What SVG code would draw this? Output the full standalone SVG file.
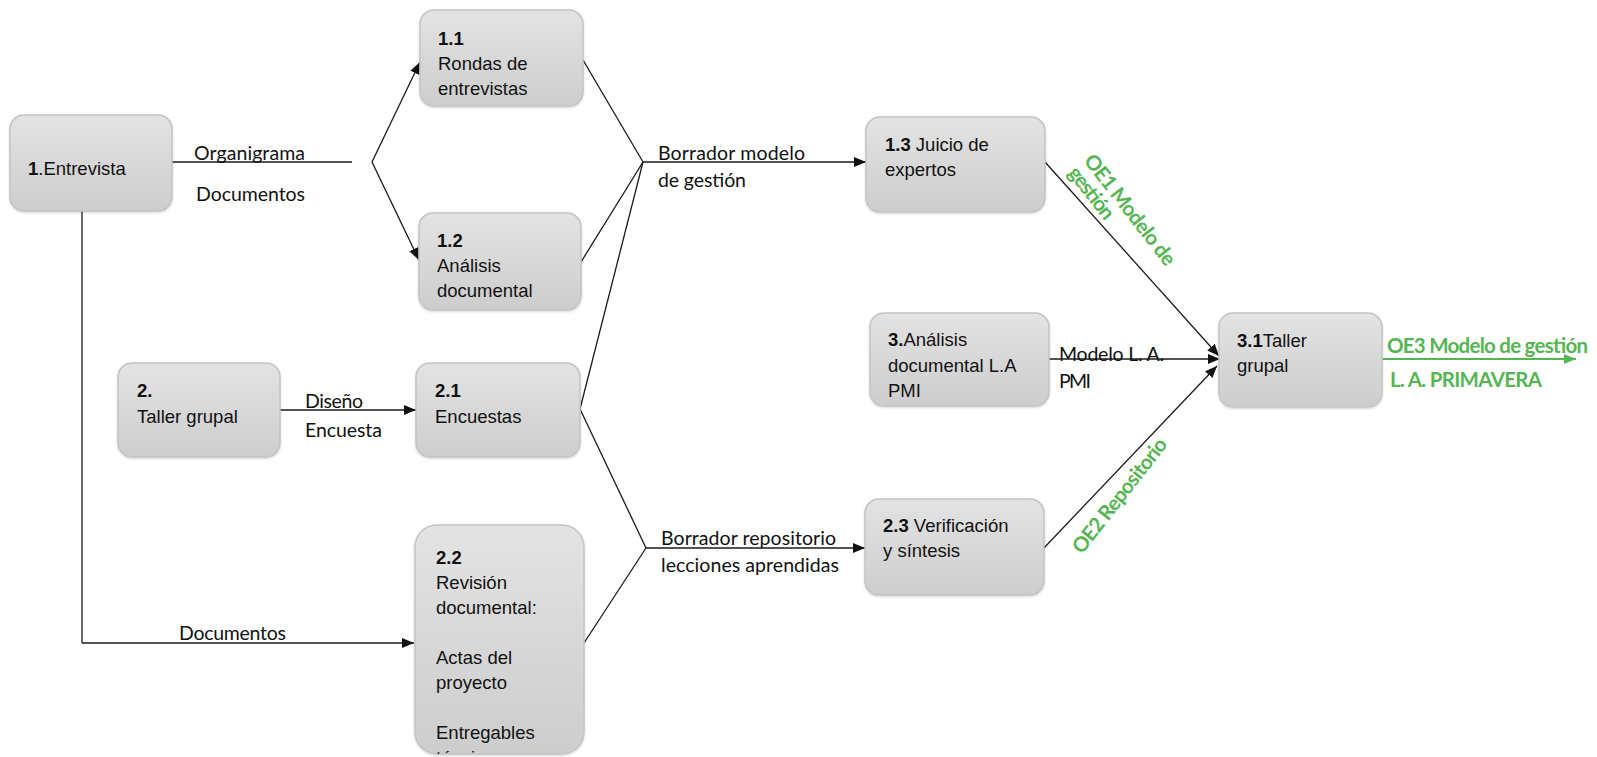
<svg xmlns="http://www.w3.org/2000/svg" width="1597" height="757" viewBox="0 0 1597 757">
<style>
.box{fill:url(#g);stroke:#c4c4c4;stroke-width:1.5;filter:url(#sh)}
.bt{font-family:"Liberation Sans",Arial,sans-serif;font-size:18.5px;fill:#111}
.b{font-weight:bold}
.lb{font-family:Lato,"Open Sans","Liberation Sans",sans-serif;font-size:19.5px;fill:#111}
.gr{font-family:Lato,"Open Sans","Liberation Sans",sans-serif;font-size:20.5px;font-weight:bold;fill:#56b553}
.c{stroke:#1a1a1a;stroke-width:1.3;fill:none}
.ca{stroke:#1a1a1a;stroke-width:1.3;fill:none;marker-end:url(#ar)}
.cg{stroke:#56b553;stroke-width:2.2;fill:none;marker-end:url(#ag)}
</style>
<defs>
<linearGradient id="g" x1="0" y1="0" x2="0" y2="1">
<stop offset="0" stop-color="#e3e3e3"/>
<stop offset="1" stop-color="#cdcdcd"/>
</linearGradient>
<filter id="sh" x="-10%" y="-10%" width="120%" height="120%">
<feDropShadow dx="0" dy="1" stdDeviation="1.2" flood-color="#000" flood-opacity="0.18"/>
</filter>
<marker id="ar" markerUnits="userSpaceOnUse" markerWidth="14" markerHeight="12" refX="12" refY="5" orient="auto">
<path d="M0,0 L12,5 L0,10 Z" fill="#111"/>
</marker>
<marker id="ag" markerUnits="userSpaceOnUse" markerWidth="14" markerHeight="12" refX="12" refY="5" orient="auto">
<path d="M0,0 L12,5 L0,10 Z" fill="#56b553"/>
</marker>
<clipPath id="clip22"><rect x="415" y="525" width="169" height="229" rx="22"/></clipPath>
</defs>

<g id="connectors">
<path class="c" d="M172,162 H352"/>
<path class="ca" d="M372,162 L420,62"/>
<path class="ca" d="M372,162 L419,260"/>
<path class="c" d="M82,211 V643"/>
<path class="ca" d="M82,643 H414"/>
<path class="ca" d="M280,410 H416"/>
<path class="c" d="M583,60 L643,162"/>
<path class="c" d="M581,262 L643,162"/>
<path class="c" d="M580,409 L643,162"/>
<path class="ca" d="M643,162 H866"/>
<path class="c" d="M580,409 L646,548"/>
<path class="c" d="M584,643 L646,548"/>
<path class="ca" d="M646,548 H865"/>
<path class="ca" d="M1045,162 L1219,356"/>
<path class="ca" d="M1049,359 H1220"/>
<path class="ca" d="M1043,549 L1217,366"/>
<path class="cg" d="M1382,359 H1576"/>
</g>

<g id="labels">
<text class="lb" x="194" y="160" textLength="111">Organigrama</text>
<text class="lb" x="196" y="201" textLength="109">Documentos</text>
<text class="lb" x="658" y="160" textLength="147">Borrador modelo</text>
<text class="lb" x="658" y="187" textLength="88">de gestión</text>
<text class="lb" x="305" y="408" textLength="58">Diseño</text>
<text class="lb" x="305" y="437" textLength="77">Encuesta</text>
<text class="lb" x="179" y="640" textLength="107">Documentos</text>
<text class="lb" x="661" y="545" textLength="175">Borrador repositorio</text>
<text class="lb" x="661" y="572" textLength="178">lecciones aprendidas</text>
<text class="lb" x="1059" y="361" textLength="105">Modelo L. A.</text>
<text class="lb" x="1059" y="388" textLength="32">PMI</text>
<text class="gr" transform="translate(1083,161) rotate(52)"><tspan x="0" y="0" textLength="135">OE1 Modelo de</tspan><tspan x="0" y="20" textLength="61">gestión</tspan></text>
<text class="gr" transform="translate(1082,555) rotate(-52)" textLength="140">OE2 Repositorio</text>
<text class="gr" x="1387" y="353" textLength="201">OE3 Modelo de gestión</text>
<text class="gr" x="1390" y="387" textLength="152">L. A. PRIMAVERA</text>
</g>

<g id="n1">
<rect class="box" x="10" y="115" width="162" height="96" rx="14"/>
<text class="bt" x="28" y="175"><tspan class="b">1</tspan>.Entrevista</text>
</g>
<g id="n11">
<rect class="box" x="420" y="10" width="163" height="96" rx="14"/>
<text class="bt"><tspan class="b" x="438" y="45">1.1</tspan><tspan x="438" y="70">Rondas de</tspan><tspan x="438" y="95">entrevistas</tspan></text>
</g>
<g id="n12">
<rect class="box" x="419" y="213" width="162" height="97" rx="14"/>
<text class="bt"><tspan class="b" x="437" y="247">1.2</tspan><tspan x="437" y="272">Análisis</tspan><tspan x="437" y="297">documental</tspan></text>
</g>
<g id="n2">
<rect class="box" x="118" y="363" width="162" height="94" rx="14"/>
<text class="bt"><tspan class="b" x="137" y="397">2.</tspan><tspan x="137" y="423">Taller grupal</tspan></text>
</g>
<g id="n21">
<rect class="box" x="416" y="363" width="164" height="94" rx="14"/>
<text class="bt"><tspan class="b" x="435" y="397">2.1</tspan><tspan x="435" y="423">Encuestas</tspan></text>
</g>
<g id="n22">
<rect class="box" x="415" y="525" width="169" height="229" rx="22"/>
<text class="bt" clip-path="url(#clip22)"><tspan class="b" x="436" y="564">2.2</tspan><tspan x="436" y="589">Revisión</tspan><tspan x="436" y="614">documental:</tspan><tspan x="436" y="664">Actas del</tspan><tspan x="436" y="689">proyecto</tspan><tspan x="436" y="739">Entregables</tspan><tspan x="436" y="764">técnicos</tspan></text>
</g>
<g id="n13">
<rect class="box" x="866" y="117" width="179" height="95" rx="14"/>
<text class="bt"><tspan x="885" y="151"><tspan class="b">1.3</tspan> Juicio de</tspan><tspan x="885" y="176">expertos</tspan></text>
</g>
<g id="n3">
<rect class="box" x="870" y="313" width="179" height="93" rx="14"/>
<text class="bt"><tspan x="888" y="346"><tspan class="b">3.</tspan>Análisis</tspan><tspan x="888" y="371.5">documental L.A</tspan><tspan x="888" y="397">PMI</tspan></text>
</g>
<g id="n31">
<rect class="box" x="1219" y="313" width="163" height="94" rx="14"/>
<text class="bt"><tspan x="1237" y="347"><tspan class="b">3.1</tspan>Taller</tspan><tspan x="1237" y="372">grupal</tspan></text>
</g>
<g id="n23">
<rect class="box" x="865" y="499" width="179" height="96" rx="14"/>
<text class="bt"><tspan x="883" y="532"><tspan class="b">2.3</tspan> Verificación</tspan><tspan x="883" y="557">y síntesis</tspan></text>
</g>
</svg>
